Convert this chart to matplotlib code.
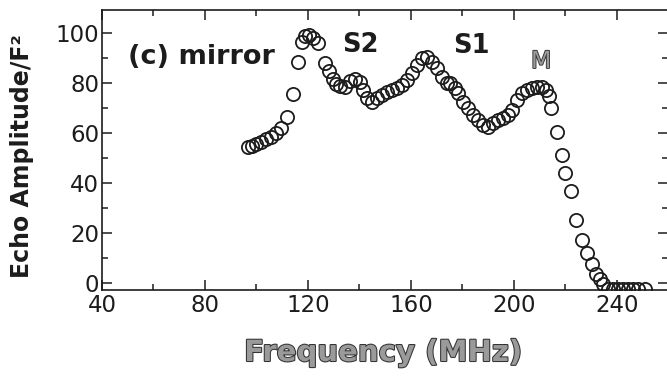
import numpy as np
import matplotlib
matplotlib.use('Agg')
import matplotlib.pyplot as plt
import matplotlib.patheffects as pe
from matplotlib.ticker import MultipleLocator

# echo amplitude vs frequency
freq = [96.7, 98.3, 99.8, 101.7, 103.7, 105.6, 107.6, 109.5, 111.8, 114.2,
        116.1, 117.7, 118.9, 120.4, 121.9, 123.9, 126.6, 128.2, 129.7, 130.9,
        132.4, 134.4, 136.3, 138.3, 140.2, 141.4, 142.9, 144.9, 146.8, 148.7,
        150.7, 152.6, 154.6, 156.5, 158.4, 160.4, 162.3, 164.3, 166.2, 168.2,
        170.1, 172.0, 174.0, 175.1, 177.1, 178.3, 180.2, 182.1, 184.1, 186.0,
        188.0, 189.9, 191.8, 193.8, 195.7, 197.7, 199.2, 201.2, 203.1, 205.0,
        207.0, 208.9, 210.9, 212.4, 213.6, 214.4, 216.7, 218.6, 219.8, 222.1,
        224.1, 226.4, 228.3, 230.3, 231.8, 233.4, 234.6, 236.5, 238.4, 240.4,
        242.3, 244.3, 246.2, 248.2, 251.0]
amp = [54.4, 54.8, 55.6, 56.4, 57.6, 58.4, 60.0, 62.0, 66.4, 75.6,
       88.4, 96.4, 98.8, 99.2, 98.0, 96.0, 88.0, 84.8, 81.6, 79.6,
       78.8, 78.4, 80.8, 81.6, 80.4, 77.2, 74.0, 72.4, 74.0, 75.2,
       76.4, 77.2, 78.0, 79.2, 81.2, 84.0, 87.2, 90.0, 90.4, 88.4,
       86.0, 82.4, 80.0, 79.9, 78.0, 76.0, 72.4, 70.0, 67.2, 65.2,
       63.2, 62.4, 64.0, 65.2, 66.0, 67.2, 69.2, 73.2, 76.0, 77.2,
       78.0, 78.4, 78.4, 77.2, 74.8, 70.0, 60.4, 51.2, 44.0, 36.8,
       25.2, 17.2, 12.0, 7.6, 3.6, 1.6, -0.4, -2.4, -2.4, -2.4,
       -2.4, -2.4, -2.4, -2.4, -2.4]

xticks = [40, 80, 120, 160, 200, 240]
yticks = [0, 20, 40, 60, 80, 100]

ink = '#1c1c1c'
plt.rcParams['font.family'] = 'DejaVu Sans'

fig = plt.figure(figsize=(6.67, 3.76), dpi=100)
ax = fig.add_axes([0.1529, 0.2287, 0.8493, 0.7447])

ax.plot(freq, amp, 'o', mfc='none', mec=ink, ms=9.5, mew=1.3)

ax.set_xlim(40, 260)
ax.set_ylim(-2.8, 109.2)
ax.set_xticks(xticks)
ax.set_yticks(yticks)
ax.xaxis.set_minor_locator(MultipleLocator(20))
ax.yaxis.set_minor_locator(MultipleLocator(10))
ax.tick_params(which='both', direction='in', top=True, right=True,
               color=ink, width=1.1, labelsize=16.5, labelcolor=ink)
ax.tick_params(which='major', length=7)
ax.tick_params(which='minor', length=4)
ax.tick_params(axis='x', pad=3)
ax.tick_params(axis='y', pad=2)
for s in ax.spines.values():
    s.set_linewidth(1.2)
    s.set_color(ink)

# labels inside the plot
ax.text(50.1, 87.5, '(c) mirror', fontsize=19.5, fontweight='bold',
        color=ink, ha='left', va='baseline')
ax.text(133.2, 92.5, 'S2', fontsize=18.5, fontweight='bold',
        color=ink, ha='left', va='baseline')
ax.text(176.3, 91.9, 'S1', fontsize=18.5, fontweight='bold',
        color=ink, ha='left', va='baseline')
ax.text(206.6, 86.0, 'M', fontsize=17, color='#9a9a9a', ha='left',
        va='baseline',
        path_effects=[pe.withStroke(linewidth=1.3, foreground='#333333')])

fig.text(22 / 667, 1 - 156 / 376, 'Echo Amplitude/F²', rotation=90,
         fontsize=17, fontweight='bold', color=ink, ha='center', va='center')
fig.text(383 / 667, 1 - 353 / 376, 'Frequency (MHz)', fontsize=21,
         fontweight='bold', color='#9a9a9a', ha='center', va='center',
         path_effects=[pe.withStroke(linewidth=1.5, foreground='#333333')])

fig.savefig('out.png', dpi=100)
